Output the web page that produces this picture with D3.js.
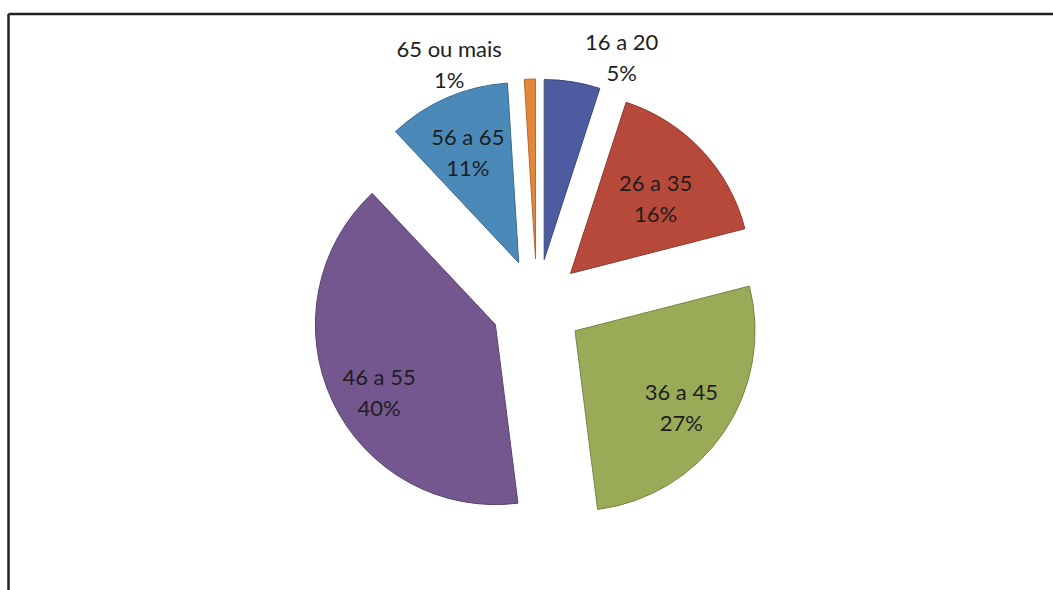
<!DOCTYPE html>
<html>
<head>
<meta charset="utf-8">
<script src="https://cdn.jsdelivr.net/npm/d3@7/dist/d3.min.js"></script>
<style>
  html, body { margin: 0; padding: 0; background: #ffffff; }
  svg { display: block; }
</style>
</head>
<body>
<svg id="chart" width="1053" height="590"></svg>
<script>
// ---- data ----
const categories = ["16 a 20", "26 a 35", "36 a 45", "46 a 55", "56 a 65", "65 ou mais"];
const values = [5, 16, 27, 40, 11, 1];
const percentLabels = ["5%", "16%", "27%", "40%", "11%", "1%"];
const colors = ["#4d5ca0", "#b7493b", "#9aab58", "#75578f", "#4b89b9", "#e3873a"];

// ---- layout (label placement: angle in degrees clockwise from top, radius as fraction of R, measured from slice apex) ----
const labelAngle = [21, 48.6, 126, 239.5, 335, 336];
const labelRadius = [1.2, 0.63, 0.73, 0.75, 0.67, 1.18];

const W = 1053, H = 590;
const cx = 537, cy = 305, R = 180, explode = 46;

const svg = d3.select("#chart");

// frame (top and left edges visible)
svg.append("line").attr("x1", 8.5).attr("y1", 14).attr("x2", W).attr("y2", 14)
  .attr("stroke", "#222").attr("stroke-width", 2.5);
svg.append("line").attr("x1", 8.5).attr("y1", 14).attr("x2", 8.5).attr("y2", H)
  .attr("stroke", "#222").attr("stroke-width", 2.5);

const pie = d3.pie().sort(null).value(d => d).startAngle(0).endAngle(2 * Math.PI);
const arcs = pie(values);
const arc = d3.arc().innerRadius(0).outerRadius(R);
const color = d3.scaleOrdinal().domain(categories).range(colors);

const g = svg.append("g").attr("transform", `translate(${cx},${cy})`);

const slices = g.selectAll("g.slice").data(arcs).enter().append("g")
  .attr("class", "slice")
  .attr("transform", d => {
    const a = (d.startAngle + d.endAngle) / 2;
    return `translate(${explode * Math.sin(a)},${-explode * Math.cos(a)})`;
  });

slices.append("path")
  .attr("d", arc)
  .attr("fill", (d, i) => color(categories[i]))
  .attr("stroke", (d, i) => d3.color(color(categories[i])).darker(0.7))
  .attr("stroke-width", 1);

const font = "Lato, 'Noto Sans', sans-serif";
slices.each(function(d, i) {
  const a = labelAngle[i] * Math.PI / 180;
  const r = labelRadius[i] * R;
  const x = r * Math.sin(a), y = -r * Math.cos(a);
  const t = d3.select(this).append("text")
    .attr("text-anchor", "middle")
    .attr("font-family", font)
    .attr("font-size", 22)
    .attr("fill", "#1e1e1e");
  t.append("tspan").attr("x", x).attr("y", y - 8).text(categories[i]);
  t.append("tspan").attr("x", x).attr("y", y + 23).text(percentLabels[i]);
});
</script>
</body>
</html>
